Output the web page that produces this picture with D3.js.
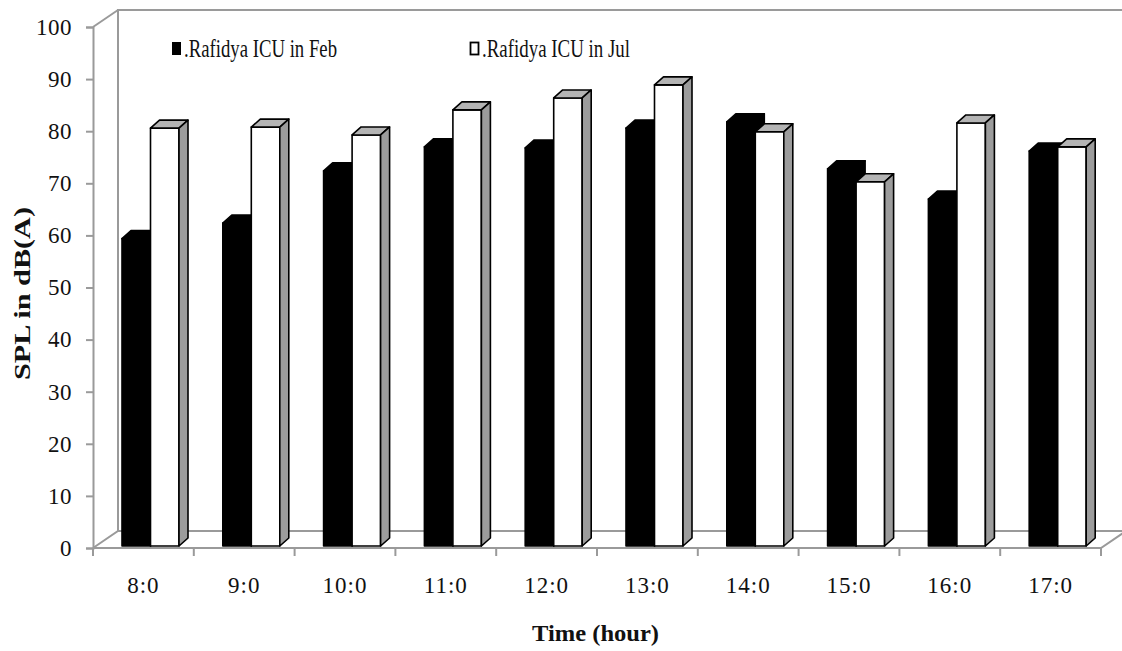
<!DOCTYPE html>
<html>
<head>
<meta charset="utf-8">
<script src="https://cdn.jsdelivr.net/npm/d3@7"></script>
<style>
  html, body { margin: 0; padding: 0; background: #fff; }
  svg { display: block; }
  text { font-family: "Liberation Serif", "Times New Roman", serif; fill: #111; }
</style>
</head>
<body>
<svg id="chart" width="1122" height="651"></svg>
<script>
const categories = ["8:0", "9:0", "10:0", "11:0", "12:0", "13:0", "14:0", "15:0", "16:0", "17:0"];
const febValues = [59.0, 62.0, 72.0, 76.6, 76.4, 80.2, 81.4, 72.4, 66.6, 75.8];
const julValues = [80.2, 80.4, 78.9, 83.7, 86.0, 88.5, 79.5, 69.9, 81.2, 76.6];
const seriesNames = [".Rafidya ICU in Feb", ".Rafidya ICU in Jul"];
const yTicks = [0, 10, 20, 30, 40, 50, 60, 70, 80, 90, 100];
const xTitle = "Time (hour)";
const yTitle = "SPL in dB(A)";

const svg = d3.select("#chart");
const wallColor = "#9a9a9a";
const serif = "Liberation Serif";

// front plane geometry
const x0 = 93, x1 = 1101, yBottom = 548, yTop = 27;
const depthDX = 25, depthDY = -17;

const y = d3.scaleLinear().domain([0, 100]).range([yBottom, yTop]);
const yBar = d3.scaleLinear().domain([0, 100]).range([yBottom - 2, yTop - 2]);
const x = d3.scaleBand().domain(categories).range([x0, x1]).padding(0);

// walls
const wall = svg.append("g").attr("fill", "none").attr("stroke", wallColor).attr("stroke-width", 2);
wall.append("path").attr("d", d3.line()([
  [x0 + depthDX, yBottom + depthDY],
  [x0 + depthDX, yTop + depthDY],
  [x1 + depthDX, yTop + depthDY],
  [x1 + depthDX, yBottom + depthDY]
]));
wall.append("path").attr("d", d3.line()([
  [x0, yBottom], [x1, yBottom], [x1 + depthDX, yBottom + depthDY], [x0 + depthDX, yBottom + depthDY], [x0, yBottom]
]));
wall.append("path").attr("d", d3.line()([[x0, yTop], [x0 + depthDX, yTop + depthDY]]));

// y axis (front)
const yAxis = d3.axisLeft(y).tickValues(yTicks).tickSize(7).tickPadding(14).tickFormat(d3.format("d"));
const gy = svg.append("g").attr("transform", `translate(${x0},0)`).call(yAxis);
gy.attr("font-family", serif);
gy.select(".domain").attr("stroke", wallColor).attr("stroke-width", 2);
gy.selectAll(".tick line").attr("stroke", wallColor).attr("stroke-width", 2);
gy.selectAll(".tick text").attr("font-size", 23).attr("fill", "#111")
  .attr("font-family", serif).style("letter-spacing", "0.5px");

// x axis (front)
const xAxis = d3.axisBottom(x).tickSize(0).tickPadding(29);
const gx = svg.append("g").attr("transform", `translate(0,${yBottom})`).call(xAxis);
gx.attr("font-family", serif);
gx.select(".domain").remove();
gx.selectAll(".tick text").attr("font-size", 23).attr("fill", "#111")
  .attr("font-family", serif).style("letter-spacing", "1px");
svg.append("g").selectAll("line")
  .data(d3.range(categories.length + 1))
  .join("line")
  .attr("x1", i => x0 + i * x.step()).attr("x2", i => x0 + i * x.step())
  .attr("y1", yBottom).attr("y2", yBottom + 8)
  .attr("stroke", wallColor).attr("stroke-width", 2);

// bars
const barW = 28.5, offBlack = 29, bdx = 9, bdy = -8;
function drawBar(g, left, val, front, top, side) {
  const ft = yBar(val), fb = yBar(0);
  const r = left + barW;
  g.append("path").attr("d", d3.line()([[left, fb], [r, fb], [r, ft], [left, ft]]) + "Z")
    .attr("fill", front).attr("stroke", "#000").attr("stroke-width", 1.6).attr("stroke-linejoin", "round");
  g.append("path").attr("d", d3.line()([[left, ft], [r, ft], [r + bdx, ft + bdy], [left + bdx, ft + bdy]]) + "Z")
    .attr("fill", top).attr("stroke", "#000").attr("stroke-width", 1.6).attr("stroke-linejoin", "round");
  g.append("path").attr("d", d3.line()([[r, fb], [r + bdx, fb + bdy], [r + bdx, ft + bdy], [r, ft]]) + "Z")
    .attr("fill", side).attr("stroke", "#000").attr("stroke-width", 1.6).attr("stroke-linejoin", "round");
}
const bars = svg.append("g");
categories.forEach((c, i) => {
  const g = bars.append("g");
  const left = x(c) + offBlack;
  drawBar(g, left, febValues[i], "#000", "#000", "#000");
  drawBar(g, left + barW, julValues[i], "#fff", "#b4b4b4", "#9c9c9c");
});

// legend
const legend = svg.append("g");
legend.append("rect").attr("x", 172).attr("y", 42).attr("width", 9).attr("height", 13).attr("fill", "#000");
legend.append("text").attr("x", 184).attr("y", 57).attr("font-size", 25)
  .attr("textLength", 153).attr("lengthAdjust", "spacingAndGlyphs").text(seriesNames[0]);
legend.append("rect").attr("x", 470.5).attr("y", 42.5).attr("width", 8).attr("height", 12)
  .attr("fill", "#fff").attr("stroke", "#000").attr("stroke-width", 1.8);
legend.append("text").attr("x", 482).attr("y", 57).attr("font-size", 25)
  .attr("textLength", 148).attr("lengthAdjust", "spacingAndGlyphs").text(seriesNames[1]);

// titles
svg.append("text").attr("x", 532).attr("y", 641).attr("font-size", 24).attr("font-weight", "bold")
  .attr("textLength", 127).attr("lengthAdjust", "spacingAndGlyphs").text(xTitle);
svg.append("text").attr("transform", "translate(30,380) rotate(-90)")
  .attr("font-size", 24).attr("font-weight", "bold")
  .attr("textLength", 173).attr("lengthAdjust", "spacingAndGlyphs").text(yTitle);
</script>
</body>
</html>
